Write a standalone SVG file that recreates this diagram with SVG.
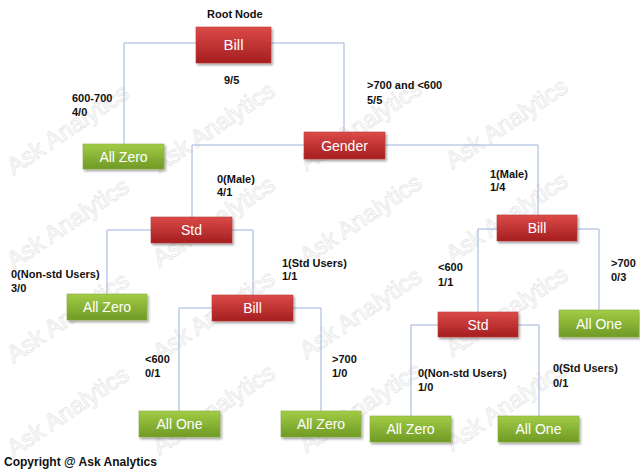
<svg xmlns="http://www.w3.org/2000/svg" width="640" height="472" viewBox="0 0 640 472">
<defs>
<linearGradient id="red" x1="0" y1="0" x2="0" y2="1"><stop offset="0" stop-color="#dc4a48"/><stop offset="1" stop-color="#a51e1f"/></linearGradient>
<linearGradient id="green" x1="0" y1="0" x2="0" y2="1"><stop offset="0" stop-color="#a2cc46"/><stop offset="1" stop-color="#6f9a25"/></linearGradient>
<filter id="sh" x="-10%" y="-20%" width="130%" height="160%"><feDropShadow dx="1.5" dy="2" stdDeviation="1.2" flood-color="#000" flood-opacity="0.35"/></filter>
</defs>
<style>
.wm{font-family:"Liberation Sans",Arial,sans-serif;font-size:24px;fill:#fff;stroke:#e6e6e6;stroke-width:0.8;text-anchor:middle}
.r{fill:url(#red);stroke:#b83a38;stroke-width:0.6;filter:url(#sh)}
.g{fill:url(#green);stroke:#86ad3a;stroke-width:0.6;filter:url(#sh)}
.t{font-family:"Liberation Sans",Arial,sans-serif;font-size:14px;fill:#fff;text-anchor:middle}
.l{font-family:"Liberation Sans",Arial,sans-serif;font-size:11px;font-weight:bold;fill:#111}
.c{fill:none;stroke:#9db3dc;stroke-width:1}
</style>
<rect width="640" height="472" fill="#fff"/>
<g id="watermarks">
<text class="wm" transform="translate(72,136) rotate(-34)">Ask Analytics</text>
<text class="wm" transform="translate(218,134) rotate(-34)">Ask Analytics</text>
<text class="wm" transform="translate(365,132) rotate(-34)">Ask Analytics</text>
<text class="wm" transform="translate(511,130) rotate(-34)">Ask Analytics</text>
<text class="wm" transform="translate(72,230) rotate(-34)">Ask Analytics</text>
<text class="wm" transform="translate(218,228) rotate(-34)">Ask Analytics</text>
<text class="wm" transform="translate(365,226) rotate(-34)">Ask Analytics</text>
<text class="wm" transform="translate(511,224) rotate(-34)">Ask Analytics</text>
<text class="wm" transform="translate(72,324) rotate(-34)">Ask Analytics</text>
<text class="wm" transform="translate(218,322) rotate(-34)">Ask Analytics</text>
<text class="wm" transform="translate(365,320) rotate(-34)">Ask Analytics</text>
<text class="wm" transform="translate(511,318) rotate(-34)">Ask Analytics</text>
<text class="wm" transform="translate(72,418) rotate(-34)">Ask Analytics</text>
<text class="wm" transform="translate(218,416) rotate(-34)">Ask Analytics</text>
<text class="wm" transform="translate(365,414) rotate(-34)">Ask Analytics</text>
<text class="wm" transform="translate(511,412) rotate(-34)">Ask Analytics</text>
</g>
<g id="connectors">
<path class="c" d="M196,43 H124 V144"/>
<path class="c" d="M271,43 H344 V132"/>
<path class="c" d="M304,145 H192 V217"/>
<path class="c" d="M385,145 H538 V215"/>
<path class="c" d="M151,230 H107 V294"/>
<path class="c" d="M232,230 H253 V295"/>
<path class="c" d="M212,308 H179 V411"/>
<path class="c" d="M293,308 H321 V411"/>
<path class="c" d="M497,229 H478 V312"/>
<path class="c" d="M577,229 H599 V310"/>
<path class="c" d="M438,325 H411 V416"/>
<path class="c" d="M518,325 H539 V416"/>
</g>
<g id="labels">
<text class="l" x="207" y="18">Root Node</text>
<text class="l" x="224" y="84">9/5</text>
<text class="l" x="72" y="102">600-700</text>
<text class="l" x="72" y="116">4/0</text>
<text class="l" x="367" y="89">&gt;700 and &lt;600</text>
<text class="l" x="367" y="104">5/5</text>
<text class="l" x="217" y="183">0(Male)</text>
<text class="l" x="217" y="196">4/1</text>
<text class="l" x="490" y="178">1(Male)</text>
<text class="l" x="490" y="191">1/4</text>
<text class="l" x="11" y="278">0(Non-std Users)</text>
<text class="l" x="11" y="292">3/0</text>
<text class="l" x="282" y="267">1(Std Users)</text>
<text class="l" x="282" y="280">1/1</text>
<text class="l" x="438" y="271">&lt;600</text>
<text class="l" x="438" y="286">1/1</text>
<text class="l" x="611" y="267">&gt;700</text>
<text class="l" x="611" y="281">0/3</text>
<text class="l" x="145" y="363">&lt;600</text>
<text class="l" x="145" y="377">0/1</text>
<text class="l" x="332" y="363">&gt;700</text>
<text class="l" x="332" y="377">1/0</text>
<text class="l" x="418" y="377">0(Non-std Users)</text>
<text class="l" x="418" y="391">1/0</text>
<text class="l" x="553" y="372">0(Std Users)</text>
<text class="l" x="553" y="387">0/1</text>
<text class="l" x="4" y="466" style="font-size:12px">Copyright @ Ask Analytics</text>
</g>
<g id="n_root"><rect class="r" x="196" y="27" width="75" height="36"/><text class="t" x="233.5" y="50" style="font-size:15px">Bill</text></g>
<g id="n_allzero1"><rect class="g" x="83" y="144" width="81" height="25"/><text class="t" x="123.5" y="161.5">All Zero</text></g>
<g id="n_gender"><rect class="r" x="304" y="132" width="81" height="27"/><text class="t" x="344.5" y="150.5">Gender</text></g>
<g id="n_std_l"><rect class="r" x="151" y="217" width="81" height="26"/><text class="t" x="191.5" y="235">Std</text></g>
<g id="n_bill_r"><rect class="r" x="497" y="215" width="80" height="26"/><text class="t" x="537" y="233">Bill</text></g>
<g id="n_allzero2"><rect class="g" x="67" y="294" width="80" height="26"/><text class="t" x="107" y="312">All Zero</text></g>
<g id="n_bill_m"><rect class="r" x="212" y="295" width="81" height="26"/><text class="t" x="252.5" y="313">Bill</text></g>
<g id="n_std_r"><rect class="r" x="438" y="312" width="80" height="25"/><text class="t" x="478" y="329.5">Std</text></g>
<g id="n_allone1"><rect class="g" x="559" y="310" width="80" height="27"/><text class="t" x="599" y="328.5">All One</text></g>
<g id="n_allone2"><rect class="g" x="139" y="411" width="81" height="26"/><text class="t" x="179.5" y="429">All One</text></g>
<g id="n_allzero3"><rect class="g" x="281" y="411" width="80" height="26"/><text class="t" x="321" y="429">All Zero</text></g>
<g id="n_allzero4"><rect class="g" x="370" y="416" width="81" height="26"/><text class="t" x="410.5" y="434">All Zero</text></g>
<g id="n_allone3"><rect class="g" x="498" y="416" width="81" height="26"/><text class="t" x="538.5" y="434">All One</text></g>
</svg>
